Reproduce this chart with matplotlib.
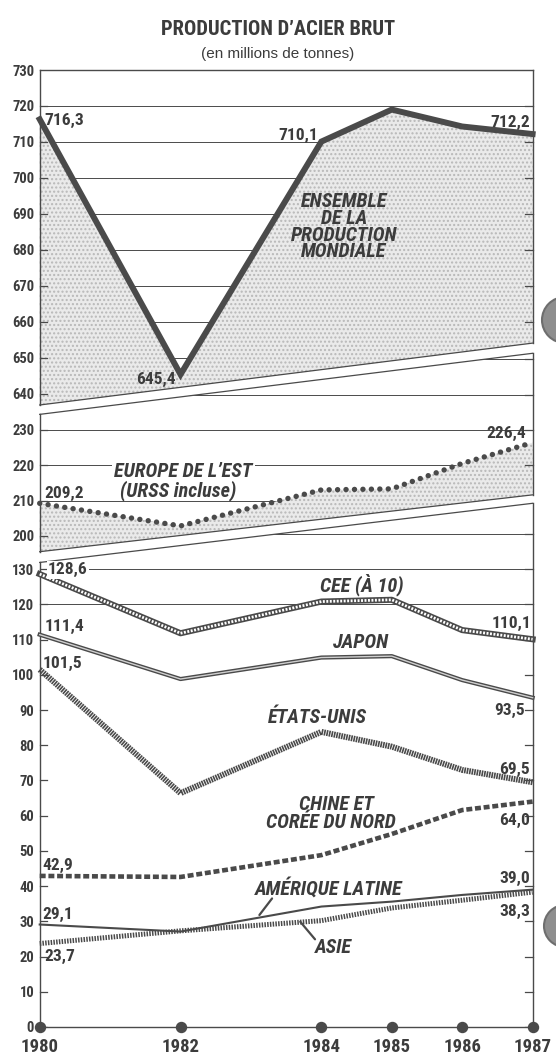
import matplotlib
matplotlib.use("Agg")
import matplotlib.pyplot as plt
from matplotlib import font_manager
from matplotlib.patches import Polygon, Circle
from matplotlib.transforms import IdentityTransform


# ============================================================
# Data (millions de tonnes)
# ============================================================

years = [1980, 1982, 1984, 1985, 1986, 1987]

monde = [716.3, 645.4, 710.1, 719.0, 714.3, 712.2]
europe_est = [209.2, 202.8, 213.0, 213.3, 220.5, 226.4]
cee = [128.6, 111.8, 120.8, 121.3, 112.7, 110.1]
japon = [111.4, 98.8, 104.9, 105.3, 98.5, 93.5]
etats_unis = [101.5, 66.4, 83.8, 79.6, 73.0, 69.5]
chine = [42.9, 42.6, 48.8, 54.8, 61.6, 64.0]
amerique_latine = [29.1, 27.1, 34.2, 35.6, 37.5, 39.0]
asie = [23.7, 27.3, 30.2, 33.8, 36.0, 38.3]

top_ticks = [640, 650, 660, 670, 680, 690, 700, 710, 720, 730]
eu_ticks = [200, 210, 220, 230]
low_ticks = [0, 10, 20, 30, 40, 50, 60, 70, 80, 90, 100, 110, 120, 130]


# ============================================================
# Style
# ============================================================

INK = "#4a4a4a"
TXT = "#3c3c3c"

installed = {f.name for f in font_manager.fontManager.ttflist}
narrow_pick = [f for f in ("Liberation Sans Narrow", "Roboto Condensed", "Roboto")
               if f in installed]
NARROW = narrow_pick[:1] + ["DejaVu Sans"]
REG = ["Liberation Sans", "DejaVu Sans"]

W, H = 556, 1056
X0, X1 = 39.7, 532.6        # pixel x of 1980 and 1987
PX = 0.72                    # pixel -> point


def fmt(v):
    return f"{v:.1f}".replace(".", ",")


fig = plt.figure(figsize=(W / 100, H / 100), dpi=100)
fig.patch.set_facecolor("white")


def panel(top_px, bottom_px, lower, upper, grid_vals, tick_vals, label_vals):
    ax = fig.add_axes([X0 / W, 1 - bottom_px / H,
                       (X1 - X0) / W, (bottom_px - top_px) / H])
    ax.set_xlim(years[0], years[-1])
    ax.set_ylim(lower[0], upper[1])
    ax.patch.set_visible(False)
    for s in ax.spines.values():
        s.set_color(INK)
        s.set_linewidth(1.0)
    ax.spines["top"].set_visible(False)
    ax.spines["bottom"].set_visible(False)
    ax.spines["left"].set_bounds(lower[0], upper[0])
    ax.spines["right"].set_bounds(lower[1], upper[1])
    ax.set_xticks([])

    def at(edge, x):
        return edge[0] + (edge[1] - edge[0]) * (x - years[0]) / (years[-1] - years[0])

    xa, xb = years[0] - 0.15, years[-1] + 0.15
    clip = Polygon([(xa, at(lower, xa)), (xb, at(lower, xb)),
                    (xb, at(upper, xb)), (xa, at(upper, xa))],
                   closed=True, transform=ax.transData, fc="none", ec="none")
    ax.add_patch(clip)

    for edge in (lower, upper):
        if edge[0] != edge[1]:
            ax.plot([years[0], years[-1]], edge, color=INK, lw=0.9, clip_on=False)

    for v in grid_vals:
        ax.axhline(v, color=INK, lw=0.7, zorder=1, clip_path=clip)
    for v in tick_vals:
        ax.axhline(v, xmin=0, xmax=0.015, color=INK, lw=0.9, zorder=3, clip_path=clip)
        ax.axhline(v, xmin=0.985, xmax=1, color=INK, lw=0.9, zorder=3, clip_path=clip)

    ax.set_yticks(label_vals)
    ax.set_yticklabels([str(v) for v in label_vals])
    ax.tick_params(axis="y", length=0, pad=4, labelsize=10.5, labelcolor=TXT)
    for t in ax.get_yticklabels():
        t.set_family(NARROW)
        t.set_weight("bold")
    return ax, clip


# ============================================================
# Panels (broken axis with slanted cuts)
# ============================================================

ax_top, clip_top = panel(70, 405, (636.9, 654.1), (730, 730),
                         top_ticks[:-1], top_ticks[:-1], top_ticks)
ax_top.spines["top"].set_visible(True)

ax_eu, clip_eu = panel(353.3, 551.7, (195.5, 211.6), (234.4, 251.7),
                       [200, 210, 220, 230, 240, 250], [200, 210, 220, 230, 240, 250],
                       eu_ticks)

ax_low, clip_low = panel(503.3, 1027, (0, 0), (131.9, 148.7),
                         [120, 130, 140], low_ticks + [140], low_ticks)
ax_low.spines["bottom"].set_visible(True)

# stippled areas
for ax, clip, vals in ((ax_top, clip_top, monde), (ax_eu, clip_eu, europe_est)):
    ax.fill_between(years, vals, ax.get_ylim()[0] - 50, facecolor="#eaeaea",
                    edgecolor="#b8b8b8", hatch="....", lw=0, zorder=1.5,
                    clip_path=clip)

# ============================================================
# Series
# ============================================================

ax_top.plot(years, monde, color=INK, lw=4.3, solid_joinstyle="miter",
            zorder=4, clip_path=clip_top)

ax_eu.plot(years, europe_est, color=INK, lw=3.9, ls=(0, (0.01, 1.55)),
           dash_capstyle="round", zorder=4, clip_path=clip_eu)

# CEE: ladder line
ax_low.plot(years, cee, color=INK, lw=4.4, zorder=4, clip_path=clip_low)
ax_low.plot(years, cee, color="white", lw=2.0, ls=(0, (0.7, 0.55)),
            zorder=4.1, clip_path=clip_low)
# Japon: double line
ax_low.plot(years, japon, color=INK, lw=3.0, zorder=4, clip_path=clip_low)
ax_low.plot(years, japon, color="#cfcfcf", lw=1.0, zorder=4.1, clip_path=clip_low)
# Etats-Unis: hatched band
ax_low.plot(years, etats_unis, color=INK, lw=4.3, ls=(0, (0.28, 0.14)),
            zorder=4, clip_path=clip_low)
# Chine et Corée du Nord: dashes
ax_low.plot(years, chine, color=INK, lw=3.3, ls=(0, (1.3, 0.6)),
            zorder=4, clip_path=clip_low)
# Amérique latine: thin solid
ax_low.plot(years, amerique_latine, color=INK, lw=1.5, zorder=4.2, clip_path=clip_low)
# Asie: lighter hatched band
ax_low.plot(years, asie, color=INK, lw=3.6, ls=(0, (0.3, 0.25)),
            zorder=4, clip_path=clip_low)

# x axis with dots
ax_low.plot(years, [0] * len(years), "o", ms=7.2, color=INK, clip_on=False, zorder=5)
ax_low.set_xticks(years)
ax_low.set_xticklabels([str(y) for y in years])
ax_low.tick_params(axis="x", length=0, pad=8, labelsize=13.5, labelcolor=TXT)
for t in ax_low.get_xticklabels():
    t.set_family(NARROW)
    t.set_weight("bold")


# ============================================================
# Value labels (offsets in px: label centre relative to point)
# ============================================================

value_labels = [
    (ax_top, monde, 0, 4.3, 1.0, "left"),
    (ax_top, monde, 1, -5.0, -3.7, "right"),
    (ax_top, monde, 2, -3.0, 8.3, "right"),
    (ax_top, monde, 5, -2.6, 13.0, "right"),
    (ax_eu, europe_est, 0, 4.3, 11.7, "left"),
    (ax_eu, europe_est, 5, -6.0, 10.5, "right"),
    (ax_low, cee, 0, 8.3, 6.0, "left"),
    (ax_low, cee, 5, -1.6, 17.6, "right"),
    (ax_low, japon, 0, 5.3, 9.8, "left"),
    (ax_low, japon, 5, -7.6, -10.5, "right"),
    (ax_low, etats_unis, 0, 3.3, 7.9, "left"),
    (ax_low, etats_unis, 5, -2.6, 14.8, "right"),
    (ax_low, chine, 0, 3.0, 12.0, "left"),
    (ax_low, chine, 5, -2.6, -16.6, "right"),
    (ax_low, amerique_latine, 0, 3.0, 11.5, "left"),
    (ax_low, amerique_latine, 5, -2.6, 12.5, "right"),
    (ax_low, asie, 0, 4.3, -11.4, "left"),
    (ax_low, asie, 5, -2.6, -17.9, "right"),
]

for ax, series, i, dx, dy, ha in value_labels:
    bg = dict(facecolor="white", edgecolor="none", pad=1) if series is cee and i == 0 else None
    ax.annotate(fmt(series[i]), xy=(years[i], series[i]),
                xytext=(dx * PX, (dy - 6.3) * PX), textcoords="offset points",
                ha=ha, va="baseline", fontsize=12.5, fontweight="bold",
                family=NARROW, color=TXT, zorder=6, bbox=bg,
                annotation_clip=False)


# ============================================================
# Series names
# ============================================================

ITAL = dict(fontsize=14.5, fontweight="bold", style="italic", family=NARROW,
            color=TXT, ha="center", va="baseline", zorder=6)

for k, line in enumerate(["ENSEMBLE", "DE LA", "PRODUCTION", "MONDIALE"]):
    ax_top.text(1984.32, 692.0 - 4.7 * k, line, **ITAL)

ax_eu.text(1982.04, 216.8, "EUROPE DE L\u2019EST",
           bbox=dict(facecolor="white", edgecolor="none", pad=1.5), **ITAL)
ax_eu.text(1981.97, 211.1, "(URSS incluse)", **ITAL)

ax_low.text(1984.57, 123.6, "CEE (\u00c0 10)", **ITAL)
ax_low.text(1984.56, 107.5, "JAPON", **ITAL)
ax_low.text(1983.95, 86.25, "\u00c9TATS-UNIS", **ITAL)
ax_low.text(1984.21, 61.6, "CHINE ET", **ITAL)
ax_low.text(1984.13, 56.4, "COR\u00c9E DU NORD", **ITAL)
ax_low.text(1984.10, 37.5, "AM\u00c9RIQUE LATINE", **ITAL)
ax_low.text(1984.17, 20.9, "ASIE", **ITAL)

# leader lines
ax_low.annotate("", xy=(1983.12, 31.8), xytext=(1983.30, 36.5),
                arrowprops=dict(arrowstyle="-", color=INK, lw=1.6,
                                shrinkA=0, shrinkB=0))
ax_low.annotate("", xy=(1983.70, 29.9), xytext=(1983.91, 24.9),
                arrowprops=dict(arrowstyle="-", color=INK, lw=1.6,
                                shrinkA=0, shrinkB=0))


# ============================================================
# Title
# ============================================================

fig.text(278 / W, 1 - 35 / H, "PRODUCTION D\u2019ACIER BRUT", ha="center",
         va="baseline", fontsize=14.8, fontweight="bold", family=NARROW, color=TXT)
fig.text(278 / W, 1 - 58 / H, "(en millions de tonnes)", ha="center",
         va="baseline", fontsize=11, family=REG, color=TXT)

# scan shadows at right edge
for cy, r in ((320, 23), (926, 21)):
    fig.add_artist(Circle((565, H - cy), r, transform=IdentityTransform(),
                          facecolor="#8e8e8e", edgecolor="#6e6e6e", lw=1.5))

fig.savefig("out.png", dpi=100)
